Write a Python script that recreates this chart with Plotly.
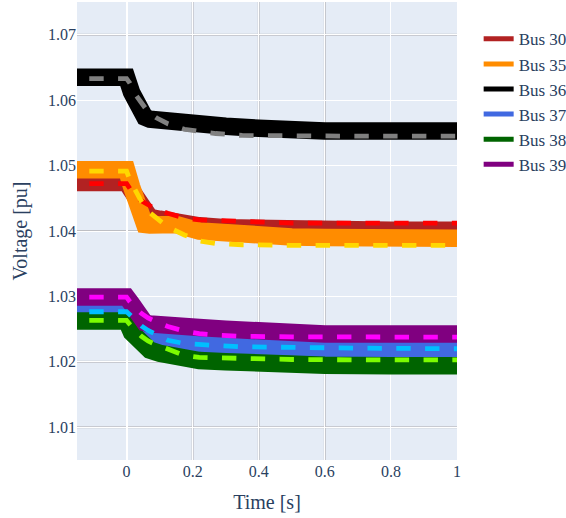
import plotly.graph_objects as go

# ---- data ----
t_solid = [-0.2, 0.0, 0.015, 0.03, 0.045, 0.055, 0.07, 0.1, 0.15, 0.22, 0.3, 0.4, 0.5, 0.6, 0.8, 1.0]
bus30 = [1.0474, 1.0474, 1.0462, 1.0450, 1.0440, 1.0424, 1.0421, 1.0418, 1.0413, 1.0408, 1.0405, 1.0403, 1.0402, 1.0401, 1.0401, 1.0401]
bus35 = [1.04935, 1.04935, 1.0468, 1.0442, 1.0435, 1.0410, 1.0409, 1.0410, 1.0410, 1.0400, 1.0396, 1.0393, 1.0391, 1.0390, 1.0389, 1.0389]
bus36 = [1.0635, 1.0635, 1.0612, 1.0596, 1.0587, 1.0574, 1.0571, 1.0569, 1.0567, 1.0564, 1.0560, 1.0557, 1.0554, 1.0553, 1.0553, 1.0553]
bus37 = [1.0281, 1.0281, 1.0270, 1.0260, 1.0252, 1.0246, 1.0243, 1.02357, 1.0231, 1.02277, 1.0225, 1.0222, 1.0220, 1.0219, 1.0218, 1.0218]
bus38 = [1.02625, 1.02625, 1.0245, 1.0236, 1.0230, 1.0222, 1.0218, 1.0213, 1.0208, 1.0202, 1.0200, 1.0197, 1.0196, 1.0195, 1.0194, 1.0194]
bus39 = [1.0299, 1.0299, 1.0289, 1.0276, 1.0266, 1.0260, 1.0258, 1.0256, 1.0254, 1.02526, 1.0250, 1.0246, 1.0244, 1.02425, 1.02425, 1.02425]

t_ref = [-0.2, 0.0, 0.01, 0.025, 0.045, 0.065, 0.09, 0.125, 0.175, 0.22, 0.27, 0.35, 0.5, 0.7, 1.0]
ref30 = [1.04725, 1.04725, 1.0465, 1.0455, 1.0446, 1.0440, 1.0433, 1.0427, 1.0420, 1.0417, 1.0416, 1.0414, 1.0412, 1.0412, 1.0412]
ref35 = [1.04915, 1.04915, 1.0478, 1.0463, 1.0445, 1.0430, 1.0419, 1.0406, 1.0394, 1.0385, 1.0381, 1.0379, 1.0378, 1.0378, 1.0378]
ref36 = [1.0633, 1.0633, 1.0626, 1.0610, 1.0596, 1.0582, 1.0573, 1.0564, 1.05555, 1.0552, 1.0549, 1.0546, 1.0545, 1.0545, 1.0545]
ref37 = [1.02766, 1.02766, 1.0272, 1.0264, 1.0255, 1.0248, 1.0241, 1.0233, 1.0228, 1.02262, 1.0225, 1.0223, 1.02215, 1.0221, 1.0220]
ref38 = [1.02633, 1.02633, 1.0257, 1.0248, 1.0239, 1.0232, 1.0226, 1.0219, 1.0210, 1.02068, 1.0206, 1.0205, 1.02036, 1.0203, 1.0203]
ref39 = [1.0299, 1.0299, 1.0292, 1.0283, 1.0274, 1.0267, 1.0261, 1.0254, 1.0247, 1.0243, 1.0241, 1.0239, 1.02383, 1.0238, 1.02377]

names = ["Bus 30", "Bus 35", "Bus 36", "Bus 37", "Bus 38", "Bus 39"]
solid_series = [bus30, bus35, bus36, bus37, bus38, bus39]
ref_series = [ref30, ref35, ref36, ref37, ref38, ref39]
solid_colors = ["#B22222", "#FF8C00", "#000000", "#4169E1", "#006400", "#800080"]
ref_colors = ["#FF0000", "#FFD700", "#808080", "#00BFFF", "#7CFC00", "#FF00FF"]

x_ticks = [0, 0.2, 0.4, 0.6, 0.8, 1]
y_ticks = [1.01, 1.02, 1.03, 1.04, 1.05, 1.06, 1.07]
gray_grid_t = [0.2, 0.4, 0.6]
gray_grid_v = [1.07, 1.04, 1.02, 1.01]

FONT = "Liberation Serif"
TXT = "#2a3f5f"

fig = go.Figure()
for name, ys, col in zip(names, solid_series, solid_colors):
    fig.add_trace(go.Scatter(x=t_solid, y=ys, mode="lines", name=name,
                             showlegend=False,
                             line=dict(color=col, width=17.5)))
for name, ys, col in zip(names, ref_series, ref_colors):
    fig.add_trace(go.Scatter(x=t_ref, y=ys, mode="lines", name=name + " ref",
                             showlegend=False,
                             line=dict(color=col, width=4.8, dash="dash")))
# legend entries (thin line symbols as in the reference)
for name, col in zip(names, solid_colors):
    fig.add_trace(go.Scatter(x=[None], y=[None], mode="lines", name=name,
                             showlegend=True,
                             line=dict(color=col, width=5)))

shapes = []
for tv in gray_grid_t:
    shapes.append(dict(type="line", xref="x", yref="paper", x0=tv, x1=tv, y0=0, y1=1,
                       line=dict(color="#bebfc4", width=2), layer="between"))
for vv in gray_grid_v:
    shapes.append(dict(type="line", xref="paper", yref="y", x0=0, x1=1, y0=vv, y1=vv,
                       line=dict(color="#bebfc4", width=2), layer="between"))

fig.update_layout(
    width=566, height=518,
    margin=dict(l=77, r=109, t=2, b=58, autoexpand=False),
    template="plotly",
    font=dict(family=FONT, size=16, color=TXT),
    shapes=shapes,
    legend=dict(x=1.057, y=0.958, tracegroupgap=0,
                font=dict(family=FONT, size=17, color=TXT)),
    xaxis=dict(range=[-0.15, 1], tickvals=x_ticks, ticktext=[str(v) for v in x_ticks],
               tickfont=dict(family=FONT, size=16, color=TXT),
               title=dict(text="Time [s]", font=dict(family=FONT, size=20, color=TXT))),
    yaxis=dict(range=[1.005, 1.075], tickvals=y_ticks, ticktext=[f"{v:.2f}" for v in y_ticks],
               tickfont=dict(family=FONT, size=16, color=TXT),
               title=dict(text="Voltage [pu]", font=dict(family=FONT, size=20, color=TXT))),
)

fig.write_html("out.html")
